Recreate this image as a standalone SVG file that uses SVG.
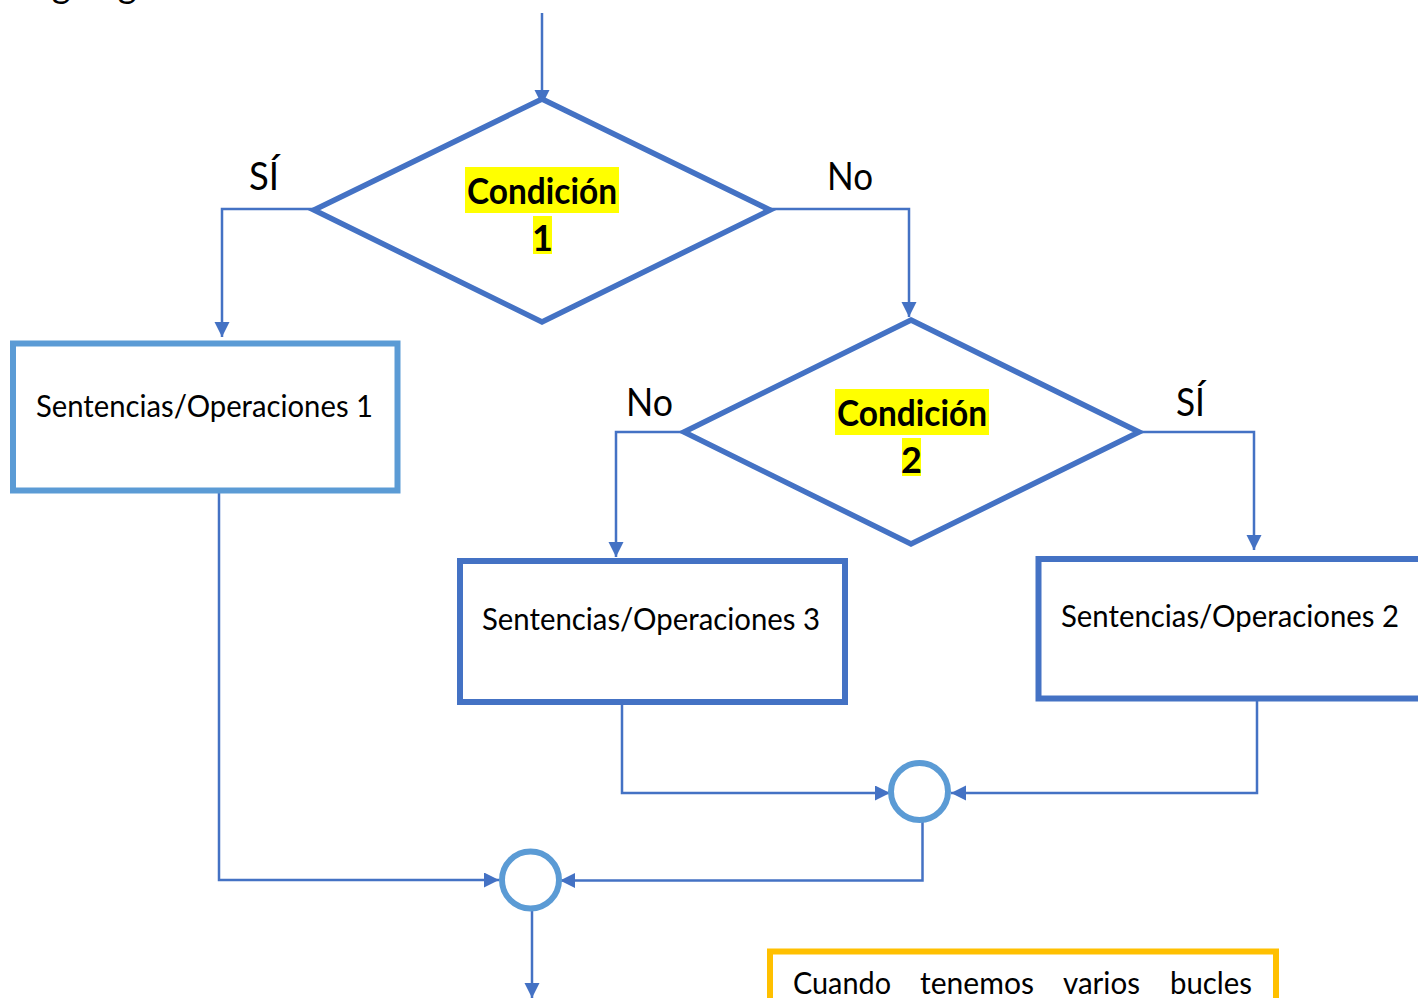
<svg xmlns="http://www.w3.org/2000/svg" width="1418" height="998" viewBox="0 0 1418 998">
<style>
.conn{fill:none;stroke:#4472C4;stroke-width:2.5}
.dia{fill:#fff;stroke:#4472C4;stroke-width:5.5;stroke-linejoin:miter}
.box{fill:#fff;stroke-width:6}
.b1{stroke:#5B9BD5}
.b2{stroke:#4472C4}
.circ{fill:#fff;stroke:#5B9BD5;stroke-width:6}
.t{font-family:Lato,"Open Sans","Liberation Sans",sans-serif;fill:#000}
.lbl{font-size:38px}
.op{font-size:31px}
.cond{font-size:36px;font-weight:bold}
.hl{fill:#FFFF00}
</style>
<defs>
<marker id="ah" markerUnits="userSpaceOnUse" markerWidth="16" markerHeight="16" refX="15" refY="7.5" orient="auto">
<path d="M0,0 L15,7.5 L0,15 z" fill="#4472C4"/>
</marker>
</defs>
<rect width="1418" height="998" fill="#fff"/>
<text class="t" x="10" y="-2" font-size="37" textLength="206" lengthAdjust="spacingAndGlyphs">Organigrama</text>

<g id="connectors">
<path class="conn" d="M542,13 L542,105" marker-end="url(#ah)"/>
<path class="conn" d="M314,209 L222,209 L222,337" marker-end="url(#ah)"/>
<path class="conn" d="M770,209 L909,209 L909,317" marker-end="url(#ah)"/>
<path class="conn" d="M684,432 L616,432 L616,557" marker-end="url(#ah)"/>
<path class="conn" d="M1139,432 L1254,432 L1254,550" marker-end="url(#ah)"/>
<path class="conn" d="M219,491 L219,880 L499,880" marker-end="url(#ah)"/>
<path class="conn" d="M622,697 L622,793 L890,793" marker-end="url(#ah)"/>
<path class="conn" d="M1257,699 L1257,793 L951,793" marker-end="url(#ah)"/>
<path class="conn" d="M922.5,822 L922.5,880.5 L560,880.5" marker-end="url(#ah)"/>
<path class="conn" d="M532,910 L532,998" marker-end="url(#ah)"/>
</g>

<g id="labels">
<text class="t lbl" x="249" y="190" textLength="30" lengthAdjust="spacingAndGlyphs">SÍ</text>
<text class="t lbl" x="827" y="190" textLength="46" lengthAdjust="spacingAndGlyphs">No</text>
<text class="t lbl" x="626" y="416" textLength="47" lengthAdjust="spacingAndGlyphs">No</text>
<text class="t lbl" x="1176" y="416" textLength="29" lengthAdjust="spacingAndGlyphs">SÍ</text>
</g>

<g id="cond1">
<polygon class="dia" points="542,99 770,210 542,322 314,210"/>
<rect class="hl" x="465" y="167" width="154" height="46"/>
<rect class="hl" x="533" y="216" width="19" height="38"/>
<text class="t cond" x="467" y="204" textLength="150" lengthAdjust="spacingAndGlyphs">Condición</text>
<text class="t cond" x="542.5" y="251" text-anchor="middle">1</text>
</g>

<g id="cond2">
<polygon class="dia" points="911,320 1139,432 911,544 684,432"/>
<rect class="hl" x="835" y="389" width="154" height="46"/>
<rect class="hl" x="902" y="438" width="19" height="38"/>
<text class="t cond" x="837" y="426" textLength="150" lengthAdjust="spacingAndGlyphs">Condición</text>
<text class="t cond" x="911.5" y="473" text-anchor="middle">2</text>
</g>

<g id="op1">
<rect class="box b1" x="13" y="343.5" width="384.5" height="147"/>
<text class="t op" x="36" y="417" textLength="337" lengthAdjust="spacingAndGlyphs">Sentencias/Operaciones 1</text>
</g>

<g id="op3">
<rect class="box b2" x="460" y="561" width="385" height="141"/>
<text class="t op" x="482" y="630" textLength="338" lengthAdjust="spacingAndGlyphs">Sentencias/Operaciones 3</text>
</g>

<g id="op2">
<rect class="box b2" x="1038.5" y="559" width="400" height="139.5"/>
<text class="t op" x="1061" y="627" textLength="338" lengthAdjust="spacingAndGlyphs">Sentencias/Operaciones 2</text>
</g>

<g id="join2">
<circle class="circ" cx="919.5" cy="791.5" r="28.5"/>
</g>

<g id="join1">
<circle class="circ" cx="530.5" cy="880" r="28.5"/>
</g>

<g id="note">
<rect x="770" y="951.5" width="506" height="80" fill="#fff" stroke="#FFC000" stroke-width="6"/>
<text class="t op" y="994"><tspan x="793" textLength="98" lengthAdjust="spacingAndGlyphs">Cuando</tspan><tspan x="920" textLength="114" lengthAdjust="spacingAndGlyphs">tenemos</tspan><tspan x="1063" textLength="77" lengthAdjust="spacingAndGlyphs">varios</tspan><tspan x="1170" textLength="82" lengthAdjust="spacingAndGlyphs">bucles</tspan></text>
</g>
</svg>
